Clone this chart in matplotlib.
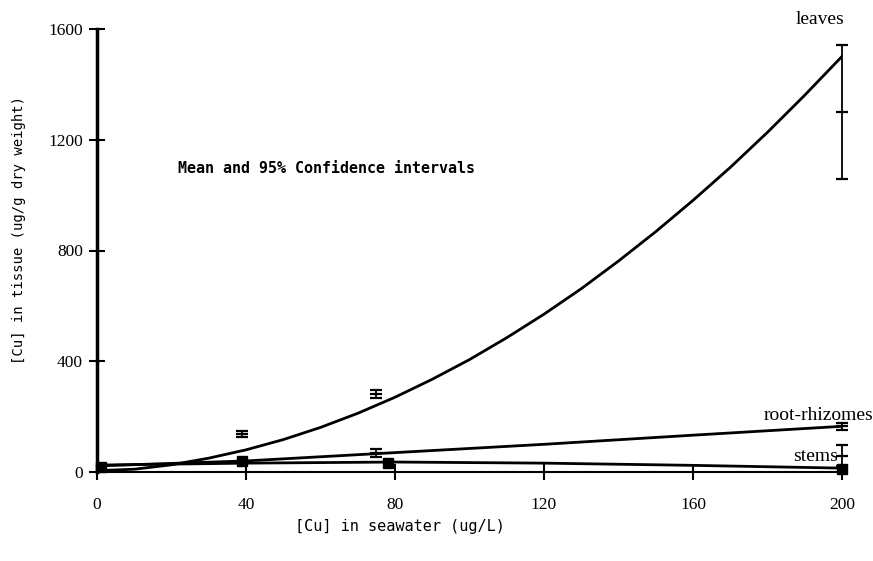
import matplotlib
matplotlib.use("Agg")
import matplotlib.pyplot as plt

# Fitted curves (tissue Cu vs seawater Cu)
curve_x = [0, 10, 20, 30, 40, 50, 60, 70, 80, 90, 100,
           110, 120, 130, 140, 150, 160, 170, 180, 190, 200]
leaves_fit = [5, 10, 26, 50, 80, 117, 161, 212, 270, 335, 406,
              485, 570, 662, 762, 868, 981, 1100, 1227, 1361, 1501]
root_fit_x = [0, 40, 80, 120, 160, 200]
root_fit = [22, 40, 70, 100, 133, 165]
stems_fit_x = [0, 40, 80, 120, 160, 200]
stems_fit = [25, 32, 36, 32, 24, 14]

# Means with 95% confidence half-widths
leaves_x = [39, 75, 200]
leaves_mean = [137, 282, 1300]
leaves_ci = [12, 14, 242]

root_x = [75, 200]
root_mean = [68, 165]
root_ci = [14, 13]

stems_x = [200]
stems_mean = [58]
stems_ci = [38]

# Means drawn as filled squares
square_x = [1, 39, 78, 200]
square_y = [18, 40, 34, 10]

xticks = [0, 40, 80, 120, 160, 200]
yticks = [0, 400, 800, 1200, 1600]

fig = plt.figure(figsize=(8.73, 5.61), dpi=100)
ax = fig.add_axes([97 / 873, 1 - 472 / 561, 745 / 873, 443 / 561])

ax.plot(curve_x, leaves_fit, color="black", lw=2.0)
ax.plot(root_fit_x, root_fit, color="black", lw=2.0)
ax.plot(stems_fit_x, stems_fit, color="black", lw=2.0)

for xs, ms, cs, cap in [(leaves_x, leaves_mean, leaves_ci, 4),
                        (root_x, root_mean, root_ci, 4),
                        (stems_x, stems_mean, stems_ci, 4)]:
    ax.errorbar(xs, ms, yerr=cs, fmt="none", ecolor="black",
                elinewidth=1.3, capsize=cap, capthick=1.6, clip_on=False)
    ax.plot(xs, ms, ls="none", marker="_", ms=8, mew=1.6, color="black",
            clip_on=False)

ax.plot(square_x, square_y, ls="none", marker="s", ms=6.5, color="black",
        clip_on=False)

ax.set_xlim(0, 200)
ax.set_ylim(0, 1600)
ax.set_xticks(xticks)
ax.set_yticks(yticks)
for s in ["top", "right"]:
    ax.spines[s].set_visible(False)
ax.spines["left"].set_linewidth(2.5)
ax.spines["bottom"].set_linewidth(1.5)
ax.tick_params(axis="both", direction="inout", length=12, width=1.5,
               colors="black")
ax.tick_params(axis="x", pad=12)
ax.tick_params(axis="y", pad=4)
for lab in ax.get_xticklabels() + ax.get_yticklabels():
    lab.set_fontfamily("Liberation Serif")
    lab.set_fontsize(12.5)

fig.text(400 / 873, 1 - 527 / 561, "[Cu] in seawater (ug/L)",
         family="DejaVu Sans Mono", fontsize=11, ha="center", va="center")
fig.text(19 / 873, 1 - 230 / 561, "[Cu] in tissue (ug/g dry weight)",
         family="DejaVu Sans Mono", fontsize=10, rotation=90,
         ha="center", va="center")

ax.text(21.7, 1097, "Mean and 95% Confidence intervals",
        family="DejaVu Sans Mono", fontsize=10.8, fontweight="bold",
        va="center", ha="left")

ax.text(194, 1635, "leaves", family="Liberation Serif", fontsize=14,
        ha="center", va="center", clip_on=False)
ax.text(208.4, 205, "root-rhizomes", family="Liberation Serif", fontsize=14,
        ha="right", va="center", clip_on=False)
ax.text(199, 55, "stems", family="Liberation Serif", fontsize=14,
        ha="right", va="center", clip_on=False)

fig.savefig("out.png", dpi=100)
